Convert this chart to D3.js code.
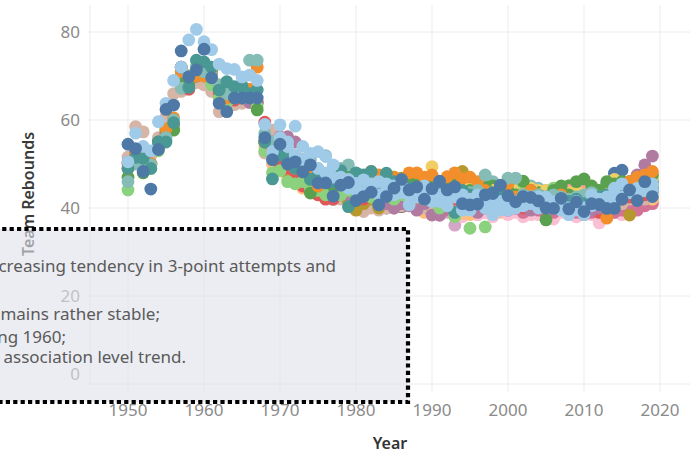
<!DOCTYPE html>
<html><head><meta charset="utf-8">
<script src="https://cdn.jsdelivr.net/npm/d3@7"></script>
<style>
html,body{margin:0;padding:0;background:#fff;overflow:hidden;}
svg{display:block;font-family:"Noto Sans","Open Sans",sans-serif;}
</style></head><body>
<svg id="chart" width="696" height="455"></svg>
<script>
// Tableau 20 palette
const palette = ["#4e79a7","#a0cbe8","#f28e2b","#ffbe7d","#59a14f","#8cd17d","#b6992d","#f1ce63","#499894","#86bcb6",
  "#e15759","#ff9d9a","#79706e","#bab0ac","#d37295","#fabfd2","#b07aa1","#d4a6c8","#9d7660","#d7b5a6"];
const yTicks = [0,20,40,60,80];
const xTicks = [1950,1960,1970,1980,1990,2000,2010,2020];
const noteLines = [
  "1. Team rebounds move opposite to the increasing tendency in 3-point attempts and",
  "",
  "2. Since the 1980s, the number of team rebounds remains rather stable;",
  "3. Team rebounds peaked during 1960;",
  "4. Most teams follow the association level trend."
];

// team rebounds per season (first season given separately, then one value per year)
const teamA = [54.5,53.5,48.3,44.3,53.3,62.4,63.4,75.7,69.8,71.4,76.1,69.6,63.8,61.9,65,65,65,65,56,51,
  54.5,50,50.5,48.2,49.8,45.7,45.7,42.7,45.2,45.8,41.7,42.6,43.6,40.7,42.6,44.5,46.5,44.1,44.8,42,
  44.4,46.1,44.1,44.8,41,40.7,40.9,43,43.3,45.2,42.8,41.4,42.6,42.4,41.6,40,39.9,42.2,39.8,41.4,
  39.2,41,40.8,39.9,39.9,42,44.1,41.7,46,42.6];
const teamB = [50.5,57,54,53,59.6,63.8,69,72,78.2,80.6,77.8,76,72.7,71.7,71.5,69.8,70.2,69,59,52.8,
  58.9,55,58.6,54,52.4,52.8,51.7,49.8,46,44.5,45.6,46.4,45.5,46,45.5,43,45,40.7,44,43.5,
  41.5,43,42,44,39.5,42,43,41,38.5,39.5,39.5,41.5,40.5,42.5,40,41,41.5,39.5,38.5,41.5,
  40,43,42,41,44.5,45.5,44,43,45,45.5];
const teamC = [49,51.5,51.3,49,55,55,59.4,72,67.4,73.6,73.2,72,66.8,68.7,67.6,67.6,66,66.8,55,46.6,
  52,51,49,48.5,46.5,47.5,47,46,48.5,40.3,48,47.5,48.3,44,47.9,46,44,44.5,43.5,44,
  43,43.5,43,39,44,43,42.5,42,43.5,43,42,41.5,42.5,42,41.5,42.5,41.5,42,41.5,42,
  41,42,42.5,43,43.5,43,44,43.5,44.5,44];
const teamD = [46,50,50.5,49.8,54,56,60,67.2,70,72,71,70,68,66,67,68,73.6,73.6,57,55,
  55,53,52,50,51,49,51.9,49,49,49.8,46,45,44.5,45,44,44.5,45,44,44.5,43.5,
  44,43.5,44,44.5,43,43.5,44,47.5,43.5,43,46.8,46.8,43,42.5,43,42,43,42.5,42,42.5,
  43,43.5,42.5,43,43.5,43,43.5,43,44,44.5];
const teamE = [51.6,58.5,57.3,52,56,60.7,66,66.5,67,68.5,68,66.5,61.9,64,63.5,63.8,64,64,52.5,57.7,
  55,50,47,48,45,46,44,43,42,41.5,40,39.2,40,39.5,40,41,40.5,42,41,40,
  41,42,40.5,41.5,40,43,42,41,40,41,40.5,42,41,40,41,40,41,40.5,40,40.5,
  41,40,42,41,40,41,42,43,42,44];
const teamF = [47,52,48,50,55,57.7,57.7,70,68,70,72,71,67,66,66,66.5,65.5,62.3,55,53,
  52.5,52.5,51,49,43.4,48,46,45,46,47,44,45.5,46,44.5,45,47,46,45.5,47,45,
  46,44,45,47,43,44,44.5,45,42,43.5,44,43,46.1,44,43,37.3,44,45,43,46,
  46.6,45,44,46,45.5,46,46,46.5,47,47.5];
const teamG = [44.1,51,48,49,53,57.5,58,68,69,72,70,68,65,64,66,65,66,63,53,48,
  48.5,46,45.5,46,44.5,44,43,44,43,44,42,43,42.5,43,44,42,43,42,43,42,
  43,40,42,38,40,35.4,41,35.7,40,42,42,43,45.6,42,43,42,44.5,42,41,42,
  41,42,43,42,42.5,43,44,43,44,45];
const teamH = [49,52,52,50,54.5,58,60.5,71,70,70,70,70.5,68,65,65.5,66,67,72,55,53,
  54,51,49,49,47,45,46.5,47.5,46,45,45.5,46,48.3,47.5,46.5,47,46.5,48,48,47,
  47.5,45,47.1,48,46.7,47,46,44,43,45,45.5,42.5,43,44,42.5,41,42,43,41.5,42,
  42.5,41.5,42,37.7,43,44,46,47,47.5,48.3];
const teamI = [50.5,53,51,50,55,57,58,70,69,71,72,71,65,65.5,65,65,64,64,55,55,
  56.2,56.2,55,51,47,46,45,44,44,43,43,44,43,42,41,40,41,40.5,39.5,41,
  38.4,38.4,40,39,41,40,39,41,39.5,40,41.5,40,41,39.5,40,41,40,41,40,40.5,
  40,39.5,40,41,42,43,44,47.5,49.8,51.8];
const teamJ = [50,53,49,50,53.5,57,59,72,67,70,71,69,66,64,64.5,65,65,64,59.5,54,
  50,49,48,45,44,43,42,42,44,43,43.5,42,44,43,44.5,44,45.5,44.5,45.5,44.5,
  45,43.5,42.5,42,43,42.5,42,42.5,41,40.5,41,41,40,41,40.5,41.5,41,40,40.5,39.5,
  40.5,40,39,40,41.5,42,42.5,42,43,44];
const teamK = [54,50,50,47,46,44.5,43.5,43,43.5,42.5,42.5,42,42,42.5,41.5,42,42,41,41.5,40.5,
  41,39.2,38.5,40.5,41,38.4,38.8,38.5,41,41,42,40.5,41,41.5,40.5,41,40.5,41.5,40.5,41.5,
  41.5,40.5,41,42,40,41,41.5,42,42.5,43,42.5,42];
const teamL = [51,48,47.5,46,45,44.5,44,43.5,43,41.5,39.5,41,42,40,43,44,46.8,46.4,41.5,42.5,
  43,42,41,42,48.3,41.5,42.5,42,41,43,42,41.5,42,43,41.5,42,41,42.5,42,41,
  42.5,41.5,41,42,41,43,38.4,42,43.5,44];
const teamM = [50,49,47,46.5,46,46.5,45.5,44.5,48,47,46.5,45,46,45,44,45.5,44.5,45,46,44,
  49.4,45,44,46,44.5,45,44,43.5,44,43,42.5,44,43,44.5,43,44,43,44,43.5,44,
  43,44.5,44,45,46.5,45,46,45.5,46,46.5];
const teamN = [44,43.5,42.5,43,42.5,42,41.5,42,41.5,42,41.5,42,43,42,41.5,
  42,41,41.5,43,42.5,41,40.5,42,43.5,44,43.5,42,42.5,41.5,42,43,42.5,43.5,44,43,
  44,43,43.5,43,42.5,43.5,43,44.5,44,45];
const teamO = [43,42,42.5,41.5,41,41.5,41,40.5,40,40.3,40.3,41,42,41.5,
  41,42,41.5,42,41,42.5,41,41.5,42,41,41.5,42,41,41.5,40.5,41,41.5,40.5,41,42,
  41,41.5,41,42,41.5,42,42.5,43,43.5,44];
const teamP = [44,43,42,42,41.5,41,42,41.5,41,42,41.5,42,41,
  41.5,41,42,41.5,41,42,41.5,41,42,41.5,41,42,41.5,41,42,41.5,41,42,41.5,41,
  42,41.5,41,42,41.5,42,42.5,43,44,44.5];
const teamQ = [41,40.5,41,40,41.5,40,40.5,41,40,40.5,39,38.4,39.5,40,39,40.5,39.5,40,39,40,
  39.5,40,39,40.5,39.5,38.5,39,40,39.5,39,38.5,39,39.5,38.5,39,39.5,40,39.5,40.5,41];
const teamR = [40,39,38.5,39.5,39,38,39,38.5,39,38,39.5,38.5,39,38,38.5,38.5,38.5,37.5,39,38.5,
  38,39,38.5,36.6,38,39,38.5,39,40,40.5,41];
const teamS = [40,39.5,38.4,39,36.1,39,40,39.5,39,40,39.5,40,39.5,39,40,39.5,39,40,39.5,40,
  39.5,39,40,39.5,40,39.5,40,40.5,41,41.5,42];
const teamT = [50,48,46,45,44,44,43.5,43,43,42,41,41.5,42,41,41.5,40.5,41,42,41.5,41,
  42,41,42,41.5,42,41,41.5,42,41,42,41.5,42,41,41.5,42,41,41.5,41,42,41.5,
  42,41,41.5,41,42,42.5,43,43.5,44,44.5];
const teamA2 = [43,42,42.5,41,42,43,42,43,41.5,43,42,42.5,42,41.5,43,42,42.5,43,44,45.5,47.9,48.6,46,45,44.5,46];
const teamB2 = [56,54,52,51,50,49,48,47,47,46.5,44,43.5,44,43,44,45,43.5,43,42.5,45,
  43.5,41.5,40.5,42.5,43,39.5,41.5,40,41,41.5,42,40,42,41,42.5,42.5,40,41,40,39.5,
  38.5,40.5,41,42.5,42,42.5,43.5,44.5,44,44];
const teamH2 = [44,44.5,43.5,44,44,43,43.5,44,43,44,43.5,44,43,43.5,42.5,43,42.5,43,42,41.5,
  42,42.5,41,41.5,41,40.5,41,40.5,41.5,42,41,41.5,41.5,41,42,42.5,43,43.5,44,45];
const teamK2 = [39,40,39.5,40.5,39,40,39.5,38.5,40,39.5,39,40,39.5,39,40.5,39.5,39,40,39.5,40,
  39,40.5,39.5,39,40,40.5,40,41,41.5,41,42];
const teamF2 = [44,45,43,44.5,45,44,45.5,43.5,44,45,43,44,44.5,43,44,43.5,42.5,43,44.5,45,
  44.5,43.5,44,43,44.5,45,44,45.5,46,45,46];
const teamG2 = [42,41.5,43,42,41,42.5,41.5,42,43,41,41.5,42,41,42.5,41.5,42,41,41.5,42,43,
  42,41.5,42,41,42.5,43,42,43,43.5,44,44.5];
const teamL2 = [41,42,41.5,42,42.5,41,42,41.5,41,42,41.5,42,41,42,41.5,42,41,41.5,42,41,
  42,42.5,43,43.5,44];
const teamM2 = [44,43.5,44,43,44,43.5,44,43,43.5,44,43,44.5,43,44,43.5,44,45,44,45,45.5,
  46,45,46,46.5,47];
const teamC2 = [43,44.5,43.5,44,42.5,43,42,43.5,42.5,41.5,43,42,41.5,42.5,41,42,43,41.5,42,41,
  42,43,42.5,43.5,42,43,44,43,44.5,45,44];
const teamD2 = [45,44,45.5,44,45,46,44.5,45,44,46,45,44,45.5,44,45,44.5,44,43.5,44,45,
  44,45,44.5,44,45,45.5,44,45,46,45.5,46];

// listed from top-most to bottom-most drawing layer: [values, first season, palette index]
const teams = [
  [teamA,1950,0],[teamB,1950,1],[teamB2,1970,1],[teamC,1950,8],[teamD,1950,9],[teamH,1950,2],
  [teamF,1950,4],[teamG,1950,5],[teamI,1950,16],[teamJ,1950,10],[teamM,1970,7],[teamL,1970,6],
  [teamE,1950,19],[teamK,1968,3],[teamN,1975,11],[teamO,1976,12],[teamP,1977,13],[teamQ,1980,14],
  [teamR,1989,15],[teamS,1989,17],[teamT,1970,18],
  [teamA2,1994,0],[teamH2,1980,2],[teamK2,1989,3],[teamF2,1989,4],[teamG2,1989,5],
  [teamL2,1995,6],[teamM2,1995,7],[teamC2,1989,8],[teamD2,1989,9]
];

const svg = d3.select("#chart");
const x = d3.scaleLinear().domain([1945, 2024]).range([90, 690.4]);
const y = d3.scaleLinear().domain([0, 86.14]).range([384, 5]);

const grid = svg.append("g");
grid.selectAll("line.h").data(yTicks).join("line")
  .attr("x1", 88).attr("x2", 690).attr("y1", d => y(d)).attr("y2", d => y(d))
  .attr("stroke", "#ececec").attr("stroke-width", 1);
grid.selectAll("line.v").data(xTicks).join("line")
  .attr("x1", d => x(d)).attr("x2", d => x(d)).attr("y1", 5).attr("y2", 392)
  .attr("stroke", "#ececec").attr("stroke-width", 1);
grid.append("line").attr("x1", 90).attr("x2", 90).attr("y1", 5).attr("y2", 386)
  .attr("stroke", "#ececec");

// y tick labels
svg.append("g").selectAll("text").data(yTicks).join("text")
  .attr("x", 80).attr("y", d => d === 0 ? y(d) - 10 : y(d))
  .attr("dy", "0.35em").attr("text-anchor", "end")
  .attr("font-size", 17).attr("fill", "#8a8a8a").text(d => d);
// x tick labels
svg.append("g").selectAll("text").data(xTicks).join("text")
  .attr("x", d => x(d)).attr("y", 416).attr("text-anchor", "middle")
  .attr("font-size", 17).attr("fill", "#8a8a8a").text(d => d);

svg.append("text").attr("x", 390).attr("y", 449).attr("text-anchor", "middle")
  .attr("font-size", 16).attr("font-weight", 600).attr("fill", "#333").text("Year");
svg.append("text").attr("transform", "translate(34,194) rotate(-90)").attr("text-anchor", "middle")
  .attr("font-size", 16).attr("font-weight", 600).attr("fill", "#3a3a3a").text("Team Rebounds");

// points: draw bottom layers first
const pts = svg.append("g");
teams.slice().reverse().forEach(([vals, start, ci]) => {
  const data = vals.map((v, i) => ({year: start + i, v}));
  pts.append("g").selectAll("circle").data(data).join("circle")
    .attr("cx", d => x(d.year)).attr("cy", d => y(d.v)).attr("r", 6.4)
    .attr("fill", palette[ci]);
});

// annotation box
const note = svg.append("g");
note.append("rect").attr("x", -20).attr("y", 229).attr("width", 428).attr("height", 173)
  .attr("fill", "#e0e2ea").attr("fill-opacity", 0.62);
const ends = [336, 0, 160, 66, 186];
const bases = [271.7, 296, 320, 342.7, 363.3];
note.selectAll("text").data(noteLines).join("text")
  .attr("x", (d, i) => ends[i]).attr("y", (d, i) => bases[i]).attr("text-anchor", "end")
  .attr("font-size", 17).attr("fill", "#5a5a5a").text(d => d);
note.append("rect").attr("x", -20).attr("y", 229).attr("width", 428).attr("height", 173)
  .attr("fill", "none").attr("stroke", "#000").attr("stroke-width", 4.2)
  .attr("stroke-dasharray", "4.2,3.2");
</script>
</body></html>
